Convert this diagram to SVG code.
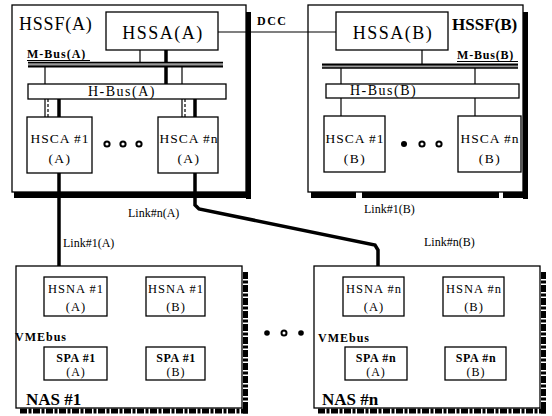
<svg xmlns="http://www.w3.org/2000/svg" width="552" height="416" viewBox="0 0 552 416">
<style>
.box{fill:#fff;stroke:#000;stroke-width:1.3}
.sh{fill:#000}
.tsh{fill:none;stroke:#000;stroke-width:5;stroke-dasharray:7 1.5 3 1.5}
.t{font-family:"Liberation Serif",serif;fill:#000}
.c{text-anchor:middle}
.thin{stroke:#000;stroke-width:1.2;fill:none}
.thick{stroke:#000;stroke-width:3.5;fill:none}
.lbl{font-family:"Liberation Serif",serif;font-size:12px;fill:#000}
</style>
<rect width="552" height="416" fill="#fff"/>

<g id="hssf-a">
<rect class="sh" x="246" y="12" width="5" height="187"/>
<rect class="sh" x="14" y="192" width="237" height="6"/>
<rect class="box" x="12" y="5" width="234" height="187"/>
<text class="t" x="19" y="30" font-size="18" letter-spacing="0.8">HSSF(A)</text>
</g>
<g id="hssf-b">
<rect class="sh" x="523" y="12" width="5" height="187"/>
<rect class="sh" x="311" y="192" width="45" height="6"/>
<rect class="sh" x="362" y="192" width="137" height="6"/>
<rect class="sh" x="503" y="192" width="25" height="6"/>
<rect class="box" x="308" y="5" width="215" height="187"/>
<text class="t" x="452" y="30" font-size="17" font-weight="bold">HSSF(B)</text>
</g>

<g id="connectors">
<line class="thin" x1="218" y1="32" x2="336" y2="32"/>
<!-- A internal -->
<line class="thick" x1="166" y1="50" x2="166" y2="84"/>
<line class="thin" x1="140" y1="50" x2="140" y2="62"/>
<line class="thin" x1="45" y1="67" x2="45" y2="84"/>
<line class="thin" x1="182" y1="67" x2="182" y2="84"/>
<line class="thin" x1="45" y1="99" x2="45" y2="117"/>
<line class="thin" x1="48" y1="99" x2="48" y2="117" stroke-dasharray="3 2"/>
<line class="thick" x1="59" y1="99" x2="59" y2="117"/>
<line class="thin" x1="182" y1="99" x2="182" y2="117"/>
<line class="thin" x1="185" y1="99" x2="185" y2="117" stroke-dasharray="3 2"/>
<line class="thick" x1="195" y1="99" x2="195" y2="117"/>
<!-- B internal -->
<line class="thin" x1="422" y1="50" x2="422" y2="64"/>
<line class="thin" x1="341" y1="68" x2="341" y2="84"/>
<line class="thin" x1="475" y1="68" x2="475" y2="84"/>
<line class="thin" x1="341" y1="98" x2="341" y2="116"/>
<line class="thin" x1="475" y1="98" x2="475" y2="116"/>
<!-- links -->
<line class="thick" x1="59" y1="173" x2="59" y2="277"/>
<polyline class="thick" points="195,173 195,205 199,209 375,245 378,250 378,277"/>
<!-- VMEbus 1 -->
<line class="thick" x1="64" y1="329" x2="201" y2="329"/>
<line class="thick" x1="76" y1="316" x2="76" y2="347"/>
<line class="thick" x1="174" y1="316" x2="174" y2="347"/>
<!-- VMEbus n -->
<line class="thick" x1="366" y1="330" x2="500" y2="330"/>
<line class="thick" x1="378" y1="316" x2="378" y2="347"/>
<line class="thick" x1="476" y1="316" x2="476" y2="347"/>
</g>

<g id="m-bus-a">
<rect x="28" y="62" width="195" height="5" fill="#999"/>
<line x1="28" y1="62.5" x2="223" y2="62.5" stroke="#000" stroke-width="1.5"/>
<line x1="28" y1="66.5" x2="223" y2="66.5" stroke="#000" stroke-width="2"/>
<line x1="27" y1="60.5" x2="90" y2="60.5" stroke="#000" stroke-width="1"/>
<text class="t" x="27" y="58" font-size="12" font-weight="bold" letter-spacing="1">M-Bus(A)</text>
</g>
<g id="m-bus-b">
<rect x="322" y="64" width="196" height="4" fill="#999"/>
<line x1="322" y1="64.5" x2="518" y2="64.5" stroke="#000" stroke-width="2"/>
<line x1="322" y1="68" x2="518" y2="68" stroke="#000" stroke-width="1.5"/>
<line x1="457" y1="61.5" x2="518" y2="61.5" stroke="#000" stroke-width="1"/>
<text class="t" x="457" y="59" font-size="12" font-weight="bold" letter-spacing="0.8">M-Bus(B)</text>
</g>

<g id="hssa-a">
<rect class="box" x="106" y="12" width="112" height="38"/>
<text class="t c" x="163" y="39" font-size="18" letter-spacing="1.5">HSSA(A)</text>
</g>
<g id="hssa-b">
<rect class="box" x="336" y="12" width="112" height="38"/>
<text class="t c" x="393" y="39" font-size="18" letter-spacing="1.5">HSSA(B)</text>
</g>
<text class="t" x="257" y="25" font-size="12" font-weight="bold" letter-spacing="1.5">DCC</text>

<g id="h-bus-a">
<rect class="box" x="28" y="84" width="198" height="15"/>
<text class="t" x="88" y="96" font-size="14" letter-spacing="1.5">H-Bus(A)</text>
</g>
<g id="h-bus-b">
<rect class="box" x="326" y="84" width="193" height="14"/>
<text class="t" x="350" y="95" font-size="14" letter-spacing="1.5">H-Bus(B)</text>
</g>

<g id="hsca-1-a">
<rect class="box" x="27" y="117" width="65" height="56"/>
<text class="t c" x="60" y="143" font-size="13.5" letter-spacing="1">HSCA #1</text>
<text class="t c" x="60" y="163" font-size="13.5" letter-spacing="1.5">(A)</text>
</g>
<g id="hsca-n-a">
<rect class="box" x="158" y="117" width="60" height="56"/>
<text class="t c" x="189" y="143" font-size="13.5" letter-spacing="1">HSCA #n</text>
<text class="t c" x="189" y="163" font-size="13.5" letter-spacing="1.5">(A)</text>
</g>
<g id="dots-a">
<circle cx="107" cy="144" r="2.6" fill="#fff" stroke="#000" stroke-width="2"/>
<circle cx="123" cy="144" r="2.6" fill="#fff" stroke="#000" stroke-width="2"/>
<circle cx="139" cy="144" r="2.6" fill="#fff" stroke="#000" stroke-width="2"/>
</g>

<g id="hsca-1-b">
<rect class="box" x="324" y="116" width="61" height="56"/>
<text class="t c" x="355" y="143" font-size="13.5" letter-spacing="1">HSCA #1</text>
<text class="t c" x="355" y="163" font-size="13.5" letter-spacing="1.5">(B)</text>
</g>
<g id="hsca-n-b">
<rect class="box" x="458" y="116" width="63" height="56"/>
<text class="t c" x="490" y="143" font-size="13.5" letter-spacing="1">HSCA #n</text>
<text class="t c" x="490" y="163" font-size="13.5" letter-spacing="1.5">(B)</text>
</g>
<g id="dots-b">
<circle cx="404" cy="144" r="3" fill="#000"/>
<circle cx="422" cy="144" r="2.6" fill="#fff" stroke="#000" stroke-width="2"/>
<circle cx="439" cy="144" r="2.6" fill="#fff" stroke="#000" stroke-width="2"/>
</g>

<text class="lbl" x="128" y="217">Link#n(A)</text>
<text class="lbl" x="63" y="247">Link#1(A)</text>
<text class="lbl" x="364" y="213">Link#1(B)</text>
<text class="lbl" x="424" y="246">Link#n(B)</text>

<g id="nas-1">
<line class="tsh" x1="245.5" y1="272" x2="245.5" y2="414"/>
<line class="tsh" x1="20" y1="411" x2="248" y2="411"/>
<rect class="box" x="16" y="266" width="226" height="142"/>
<text class="t" x="26" y="405" font-size="17" font-weight="bold">NAS #1</text>
<text class="t" x="15" y="341" font-size="12" font-weight="bold" letter-spacing="1">VMEbus</text>
</g>
<g id="hsna-1-a">
<rect class="box" x="44" y="277" width="63" height="39"/>
<text class="t c" x="76" y="293" font-size="12.5" letter-spacing="1">HSNA #1</text>
<text class="t c" x="76" y="311" font-size="12.5" letter-spacing="1">(A)</text>
</g>
<g id="hsna-1-b">
<rect class="box" x="146" y="277" width="59" height="39"/>
<text class="t c" x="176" y="293" font-size="12.5" letter-spacing="1">HSNA #1</text>
<text class="t c" x="176" y="311" font-size="12.5" letter-spacing="1">(B)</text>
</g>
<g id="spa-1-a">
<rect class="box" x="44" y="347" width="63" height="33"/>
<text class="t c" x="76" y="362" font-size="12" font-weight="bold" letter-spacing="0.6">SPA #1</text>
<text class="t c" x="76" y="376" font-size="12" letter-spacing="1">(A)</text>
</g>
<g id="spa-1-b">
<rect class="box" x="146" y="347" width="59" height="33"/>
<text class="t c" x="176" y="362" font-size="12" font-weight="bold" letter-spacing="0.6">SPA #1</text>
<text class="t c" x="176" y="376" font-size="12" letter-spacing="1">(B)</text>
</g>

<g id="dots-nas">
<circle cx="267" cy="333" r="2.8" fill="#000"/>
<circle cx="284" cy="333" r="2.5" fill="#fff" stroke="#000" stroke-width="2"/>
<circle cx="301" cy="333" r="2.8" fill="#000"/>
</g>

<g id="nas-n">
<line class="tsh" x1="543.5" y1="272" x2="543.5" y2="414"/>
<line class="tsh" x1="318" y1="411" x2="546" y2="411"/>
<rect class="box" x="314" y="266" width="226" height="142"/>
<text class="t" x="322" y="405" font-size="17" font-weight="bold">NAS #n</text>
<text class="t" x="318" y="342" font-size="12" font-weight="bold" letter-spacing="1">VMEbus</text>
</g>
<g id="hsna-n-a">
<rect class="box" x="343" y="277" width="61" height="39"/>
<text class="t c" x="374" y="293" font-size="12.5" letter-spacing="1">HSNA #n</text>
<text class="t c" x="374" y="311" font-size="12.5" letter-spacing="1">(A)</text>
</g>
<g id="hsna-n-b">
<rect class="box" x="443" y="277" width="61" height="39"/>
<text class="t c" x="474" y="293" font-size="12.5" letter-spacing="1">HSNA #n</text>
<text class="t c" x="474" y="311" font-size="12.5" letter-spacing="1">(B)</text>
</g>
<g id="spa-n-a">
<rect class="box" x="345" y="347" width="62" height="33"/>
<text class="t c" x="376" y="362" font-size="12" font-weight="bold" letter-spacing="0.6">SPA #n</text>
<text class="t c" x="376" y="376" font-size="12" letter-spacing="1">(A)</text>
</g>
<g id="spa-n-b">
<rect class="box" x="445" y="347" width="61" height="33"/>
<text class="t c" x="476" y="362" font-size="12" font-weight="bold" letter-spacing="0.6">SPA #n</text>
<text class="t c" x="476" y="376" font-size="12" letter-spacing="1">(B)</text>
</g>
</svg>
